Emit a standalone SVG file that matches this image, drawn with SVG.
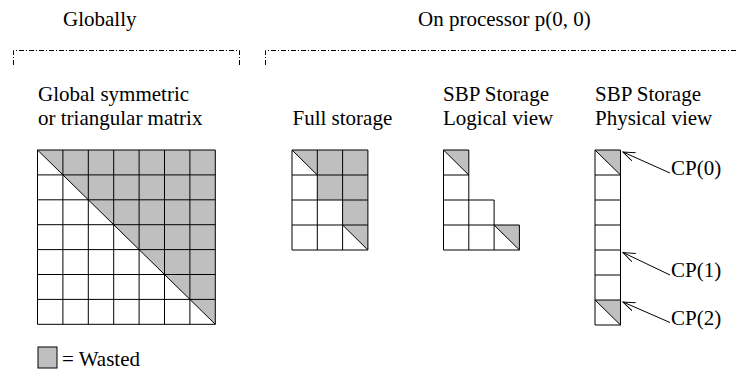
<svg xmlns="http://www.w3.org/2000/svg" width="738" height="374" viewBox="0 0 738 374">
<style>
  text { font-family: "Liberation Serif", "Times New Roman", serif; font-size: 21px; fill: #000; }
  .grid { fill: none; stroke: #000; stroke-width: 1; }
  .gray { fill: #bfbfbf; stroke: none; }
  .bracket { fill: none; stroke: #000; stroke-width: 1; stroke-dasharray: 5 2 1 2; }
  .conn { fill: none; stroke: #000; stroke-width: 1; }
</style>
<defs>
  <marker id="open-arrow" markerUnits="userSpaceOnUse" markerWidth="14" markerHeight="10" refX="12" refY="4.5" orient="auto">
    <path d="M0,0 L12,4.5 L0,9" fill="none" stroke="#000" stroke-width="1"/>
  </marker>
</defs>
<rect width="738" height="374" fill="#fff"/>

<g id="headers">
  <text x="63" y="26">Globally</text>
  <text x="418" y="26">On processor p(0, 0)</text>
  <path class="bracket" d="M13.5,65 V50.5 H239.5 V65"/>
  <path class="bracket" d="M265.5,65 V50.5 H738"/>
</g>

<g id="global-matrix">
  <text x="38" y="101">Global symmetric</text>
  <text x="38" y="125">or triangular matrix</text>
  <polygon class="gray" points="37.5,150 215.3,150 215.3,324.3"/>
  <path class="grid" d="M37.5,150 H215.3 V324.3 H37.5 Z
    M62.9,150 V324.3 M88.3,150 V324.3 M113.7,150 V324.3 M139.1,150 V324.3 M164.5,150 V324.3 M189.9,150 V324.3
    M37.5,174.9 H215.3 M37.5,199.8 H215.3 M37.5,224.7 H215.3 M37.5,249.6 H215.3 M37.5,274.5 H215.3 M37.5,299.4 H215.3
    M37.5,150 L215.3,324.3"/>
</g>

<g id="full-storage">
  <text x="292.5" y="125">Full storage</text>
  <polygon class="gray" points="292,150 367.9,150 367.9,250 342.6,225 342.6,200 317.3,200 317.3,175"/>
  <path class="grid" d="M292,150 H367.9 V250 H292 Z
    M317.3,150 V250 M342.6,150 V250
    M292,175 H367.9 M292,200 H367.9 M292,225 H367.9
    M292,150 L317.3,175 M342.6,225 L367.9,250"/>
</g>

<g id="sbp-logical">
  <text x="443" y="101">SBP Storage</text>
  <text x="443" y="125">Logical view</text>
  <polygon class="gray" points="443.5,150 468.8,150 468.8,175"/>
  <polygon class="gray" points="494.1,225 519.4,225 519.4,250"/>
  <path class="grid" d="M443.5,150 H468.8 V200 H494.1 V225 H519.4 V250 H443.5 Z
    M443.5,175 H468.8 M443.5,200 H468.8 M443.5,225 H494.1
    M468.8,200 V250 M494.1,225 V250
    M443.5,150 L468.8,175 M494.1,225 L519.4,250"/>
</g>

<g id="sbp-physical">
  <text x="595" y="101">SBP Storage</text>
  <text x="595" y="125">Physical view</text>
  <polygon class="gray" points="595,150 620.5,150 620.5,175"/>
  <polygon class="gray" points="595,300 620.5,300 620.5,325"/>
  <path class="grid" d="M595,150 H620.5 V325 H595 Z
    M595,175 H620.5 M595,200 H620.5 M595,225 H620.5 M595,250 H620.5 M595,275 H620.5 M595,300 H620.5
    M595,150 L620.5,175 M595,300 L620.5,325"/>
</g>

<g id="cp-labels">
  <text x="671" y="175">CP(0)</text>
  <text x="671" y="277">CP(1)</text>
  <text x="671" y="325">CP(2)</text>
</g>

<g id="connectors">
  <line class="conn" x1="670" y1="173" x2="623" y2="152" marker-end="url(#open-arrow)"/>
  <line class="conn" x1="670" y1="275" x2="623" y2="252.5" marker-end="url(#open-arrow)"/>
  <line class="conn" x1="670" y1="322.5" x2="623" y2="302" marker-end="url(#open-arrow)"/>
</g>

<g id="legend">
  <rect x="38" y="347" width="19" height="21" fill="#bfbfbf" stroke="#000" stroke-width="1"/>
  <text x="62" y="366">= Wasted</text>
</g>
</svg>
